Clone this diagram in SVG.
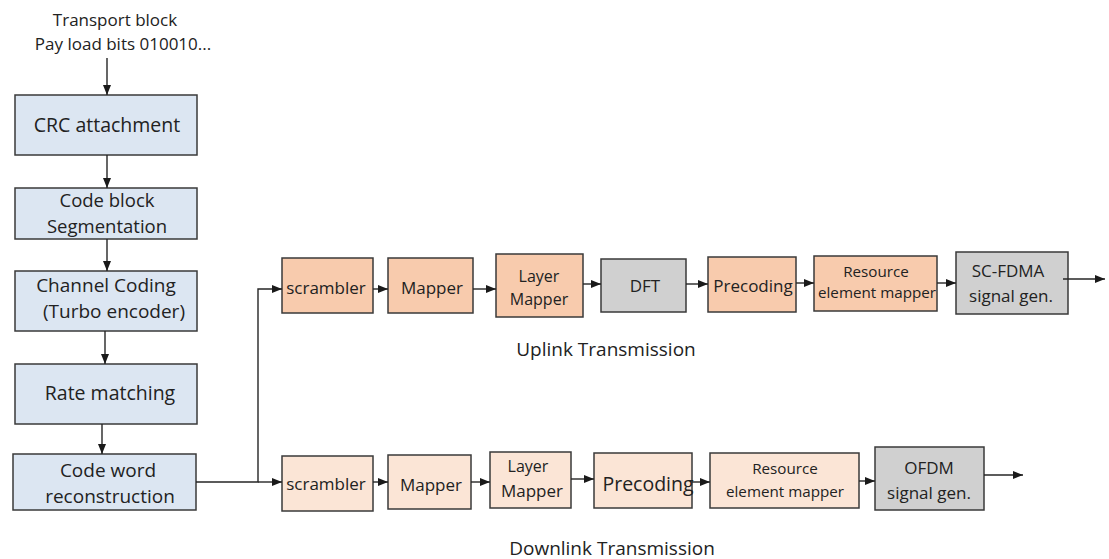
<svg xmlns="http://www.w3.org/2000/svg" width="1109" height="559" viewBox="0 0 1109 559">
  <style>
    text { font-family: "Open Sans", "Liberation Sans", sans-serif; fill: #222222; text-anchor: middle; }
    .blue { fill: #dce6f2; stroke: #3a3a3a; stroke-width: 1.5; }
    .org { fill: #f8cbad; stroke: #3a3a3a; stroke-width: 1.5; }
    .pale { fill: #fbe5d6; stroke: #3a3a3a; stroke-width: 1.5; }
    .gray { fill: #d0d0d0; stroke: #3a3a3a; stroke-width: 1.5; }
    .wire { fill: none; stroke: #262626; stroke-width: 1.4; }
    .arr { marker-end: url(#head); }
    .big { font-size: 19.5px; }
    .t19 { font-size: 19px; }
    .t18 { font-size: 18.5px; }
    .t17 { font-size: 17px; }
    .t16 { font-size: 16px; }
    .t15 { font-size: 15.2px; }
  </style>
  <defs>
    <marker id="head" markerUnits="userSpaceOnUse" markerWidth="10" markerHeight="10" viewBox="0 0 10 10" refX="10" refY="5" orient="auto">
      <path d="M0,1 L10,5 L0,9 Z" fill="#1a1a1a"/>
    </marker>
  </defs>
  <rect width="1109" height="559" fill="#ffffff"/>

  <!-- input label -->
  <g id="input">
    <text class="t17" x="115" y="26">Transport block</text>
    <text class="t17" x="123" y="50">Pay load bits 010010...</text>
  </g>

  <!-- channel coding chain -->
  <g id="crc">
    <rect class="blue" x="15" y="95" width="182" height="60"/>
    <text class="big" x="107" y="132">CRC attachment</text>
  </g>
  <g id="segmentation">
    <rect class="blue" x="15" y="188" width="182" height="51"/>
    <text class="t18" x="107" y="207">Code block</text>
    <text class="t18" x="107" y="232.5">Segmentation</text>
  </g>
  <g id="turbo">
    <rect class="blue" x="15" y="271" width="182" height="60"/>
    <text class="t19" x="106" y="292">Channel Coding</text>
    <text class="t19" x="114" y="318">(Turbo encoder)</text>
  </g>
  <g id="rate-matching">
    <rect class="blue" x="15" y="364" width="182" height="60"/>
    <text class="big" x="110" y="400">Rate matching</text>
  </g>
  <g id="codeword">
    <rect class="blue" x="13" y="454" width="183" height="56"/>
    <text class="t19" x="108" y="477">Code word</text>
    <text class="t19" x="110" y="503">reconstruction</text>
  </g>

  <!-- uplink chain -->
  <g id="ul-scrambler">
    <rect class="org" x="282" y="258" width="91" height="55"/>
    <text class="t17" x="326" y="294">scrambler</text>
  </g>
  <g id="ul-mapper">
    <rect class="org" x="388" y="258" width="85" height="55"/>
    <text class="t17" x="432" y="294">Mapper</text>
  </g>
  <g id="ul-layer">
    <rect class="org" x="496" y="254" width="87" height="63"/>
    <text class="t16" x="539" y="282">Layer</text>
    <text class="t16" x="539" y="305">Mapper</text>
  </g>
  <g id="ul-dft">
    <rect class="gray" x="601" y="259" width="85" height="53"/>
    <text class="t17" x="645" y="292">DFT</text>
  </g>
  <g id="ul-precoding">
    <rect class="org" x="708" y="257" width="88" height="55"/>
    <text class="t17" x="753" y="292">Precoding</text>
  </g>
  <g id="ul-rem">
    <rect class="org" x="814" y="256" width="123" height="55"/>
    <text class="t15" x="876" y="277">Resource</text>
    <text class="t15" x="877" y="298">element mapper</text>
  </g>
  <g id="ul-scfdma">
    <rect class="gray" x="956" y="252" width="112" height="62"/>
    <text class="t17" x="1008" y="277">SC-FDMA</text>
    <text class="t17" x="1011" y="302">signal gen.</text>
  </g>
  <text id="ul-label" class="t19" x="606" y="356">Uplink Transmission</text>

  <!-- downlink chain -->
  <g id="dl-scrambler">
    <rect class="pale" x="282" y="456" width="91" height="55"/>
    <text class="t17" x="326" y="490">scrambler</text>
  </g>
  <g id="dl-mapper">
    <rect class="pale" x="388" y="455" width="83" height="54"/>
    <text class="t17" x="431" y="491">Mapper</text>
  </g>
  <g id="dl-layer">
    <rect class="pale" x="490" y="452" width="81" height="56"/>
    <text class="t16" x="528" y="472">Layer</text>
    <text class="t17" x="532" y="497">Mapper</text>
  </g>
  <g id="dl-precoding">
    <rect class="pale" x="594" y="453" width="98" height="55"/>
    <text class="big" x="648" y="491">Precoding</text>
  </g>
  <g id="dl-rem">
    <rect class="pale" x="710" y="453" width="149" height="55"/>
    <text class="t15" x="785" y="474">Resource</text>
    <text class="t15" x="785" y="497">element mapper</text>
  </g>
  <g id="dl-ofdm">
    <rect class="gray" x="875" y="447" width="109" height="63"/>
    <text class="t17" x="929" y="474">OFDM</text>
    <text class="t17" x="929" y="499">signal gen.</text>
  </g>
  <text id="dl-label" class="t19" x="612" y="555">Downlink Transmission</text>

  <!-- connectors -->
  <g id="connectors">
    <line class="wire arr" x1="107" y1="58" x2="107" y2="95"/>
    <line class="wire arr" x1="107" y1="155" x2="107" y2="188"/>
    <line class="wire arr" x1="107" y1="239" x2="107" y2="271"/>
    <line class="wire arr" x1="105" y1="331" x2="105" y2="364"/>
    <line class="wire arr" x1="102" y1="424" x2="102" y2="454"/>

    <polyline class="wire arr" points="196,482 258,482 258,289 282,289"/>
    <line class="wire arr" x1="258" y1="482" x2="282" y2="482"/>

    <line class="wire arr" x1="373" y1="289" x2="388" y2="289"/>
    <line class="wire arr" x1="473" y1="289" x2="496" y2="289"/>
    <line class="wire arr" x1="583" y1="284" x2="601" y2="284"/>
    <line class="wire arr" x1="686" y1="284" x2="708" y2="284"/>
    <line class="wire arr" x1="796" y1="283" x2="814" y2="283"/>
    <line class="wire arr" x1="937" y1="283" x2="956" y2="283"/>
    <line class="wire arr" x1="1063" y1="279" x2="1105" y2="279"/>

    <line class="wire arr" x1="373" y1="482" x2="388" y2="482"/>
    <line class="wire arr" x1="471" y1="482" x2="490" y2="482"/>
    <line class="wire arr" x1="571" y1="479" x2="594" y2="479"/>
    <line class="wire arr" x1="692" y1="482" x2="710" y2="482"/>
    <line class="wire arr" x1="859" y1="481" x2="875" y2="481"/>
    <line class="wire arr" x1="984" y1="475" x2="1023" y2="475"/>
  </g>
</svg>
